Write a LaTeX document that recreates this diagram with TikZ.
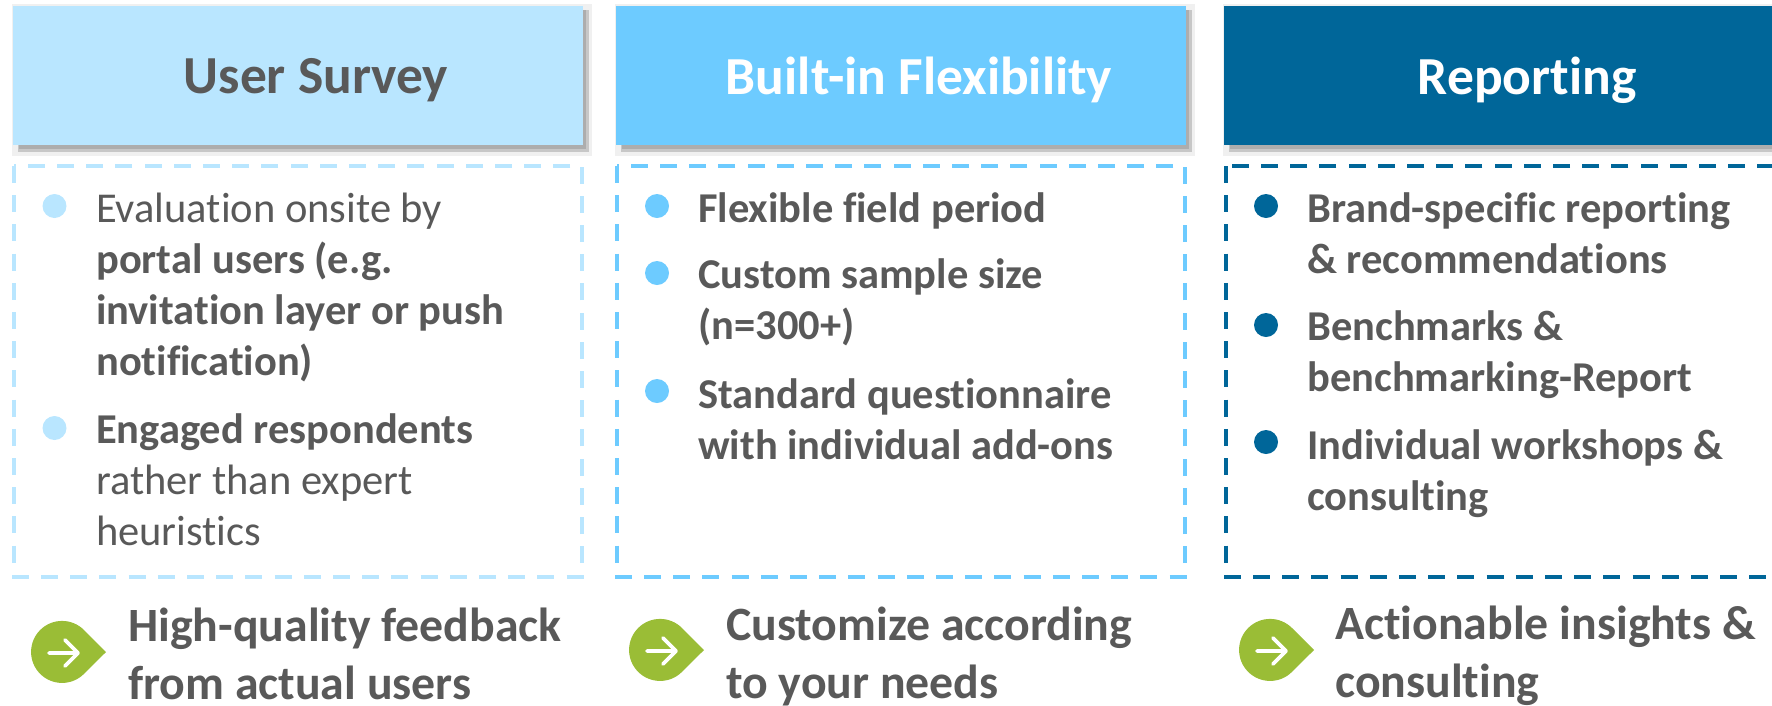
\documentclass[tikz,border=0pt]{standalone}
\usepackage{fontspec}
\setmainfont[Ligatures=NoCommon]{Carlito}
\definecolor{txt}{HTML}{595959}
\definecolor{cA}{HTML}{B9E6FF}
\definecolor{cB}{HTML}{6DCBFF}
\definecolor{cC}{HTML}{006699}
\definecolor{leaf}{HTML}{9ABD36}
\tikzset{
 head/.style={draw=none,minimum height=139pt,inner sep=0,anchor=north west},
 headtxt/.style={font=\fontsize{53.5}{60}\selectfont\bfseries},
 body/.style={anchor=base west,inner sep=0,align=left,text=txt,font=\fontsize{42.5}{51}\selectfont},
 outcome/.style={anchor=base west,inner sep=0,align=left,text=txt,font=\fontsize{47.8}{58}\selectfont\bfseries},
 dashbox/.style={line width=4pt,dash pattern=on 17pt off 12.2pt},
 arrowline/.style={draw=white,line width=3.6pt,line cap=round,line join=round}
}
\newcommand{\leafdrop}[2]{%
 \fill[leaf] (#1+44,#2) -- (#1+22,#2-22) arc[start angle=-45,end angle=-315,radius=31] -- cycle;
 \draw[arrowline] (#1-13,#2+1) -- (#1+16,#2+1) (#1+3,#2-12) -- (#1+16,#2+1) -- (#1+3,#2+14);
}
\newcommand{\softshadow}[2]{%
 \fill[black!6] (#1-1,4) rectangle (#2+9,156);
 \fill[black!22] (#1+5,145) rectangle (#2+6,152);
 \fill[black!22] (#2,10) rectangle (#2+6,152);
 \fill[black!32] (#1+6,145) rectangle (#2+3,148.5);
 \fill[black!32] (#2,10) rectangle (#2+3,148.5);
}
\begin{document}
\begin{tikzpicture}[x=1pt,y=-1pt]
\useasboundingbox (0,0) rectangle (1772,705);
% shadows
\softshadow{13}{583}
\softshadow{616}{1186}
\softshadow{1224}{1780}
% heads
\node[head,fill=cA,minimum width=570pt] (h1) at (13,6) {};
\node[head,fill=cB,minimum width=570pt] (h2) at (616,6) {};
\node[head,fill=cC,minimum width=556pt] (h3) at (1224,6) {};
\node[headtxt,text=txt] (t1) at (316,80) {User Survey};
\node[headtxt,text=white] (t2) at (919,80) {Built-in Flexibility};
\node[headtxt,text=white] (t3) at (1527,80) {Reporting};
% dashed boxes
\draw[dashbox,draw=cA] (14,166) rectangle (582,577);
\draw[dashbox,draw=cB] (617,166) rectangle (1185,577);
\draw[dashbox,draw=cC] (1226,166) rectangle (1790,577);
% bullets
\fill[cA] (54.5,206) circle (12);
\fill[cA] (54.5,428) circle (12);
\fill[cB] (657,206) circle (12);
\fill[cB] (657,273) circle (12);
\fill[cB] (657,391) circle (12);
\fill[cC] (1266,206) circle (12);
\fill[cC] (1266,325) circle (12);
\fill[cC] (1266,442) circle (12);
% body text (anchored on last baseline)
\node[body] (a1) at (96,375) {Evaluation onsite by\\\textbf{portal users (e.g.}\\\textbf{invitation layer or push}\\\textbf{notification)}};
\node[body] (a2) at (96,545) {\textbf{Engaged respondents}\\rather than expert\\heuristics};
\node[body] (b1) at (698,222) {\textbf{Flexible field period}};
\node[body] (b2) at (698,339) {\textbf{Custom sample size}\\\textbf{(n=300+)}};
\node[body] (b3) at (698,459) {\textbf{Standard questionnaire}\\\textbf{with individual add-ons}};
\node[body] (c1) at (1307,273) {\textbf{Brand-specific reporting}\\\textbf{\& recommendations}};
\node[body] (c2) at (1307,391) {\textbf{Benchmarks \&}\\\textbf{benchmarking-Report}};
\node[body] (c3) at (1307,510) {\textbf{Individual workshops \&}\\\textbf{consulting}};
% icons
\leafdrop{62}{652}
\leafdrop{660}{650}
\leafdrop{1270}{650}
% outcome text
\node[outcome] (o1) at (128,699) {High-quality feedback\\from actual users};
\node[outcome] (o2) at (726,698) {Customize according\\to your needs};
\node[outcome] (o3) at (1335,697) {Actionable insights \&\\consulting};
\end{tikzpicture}
\end{document}
